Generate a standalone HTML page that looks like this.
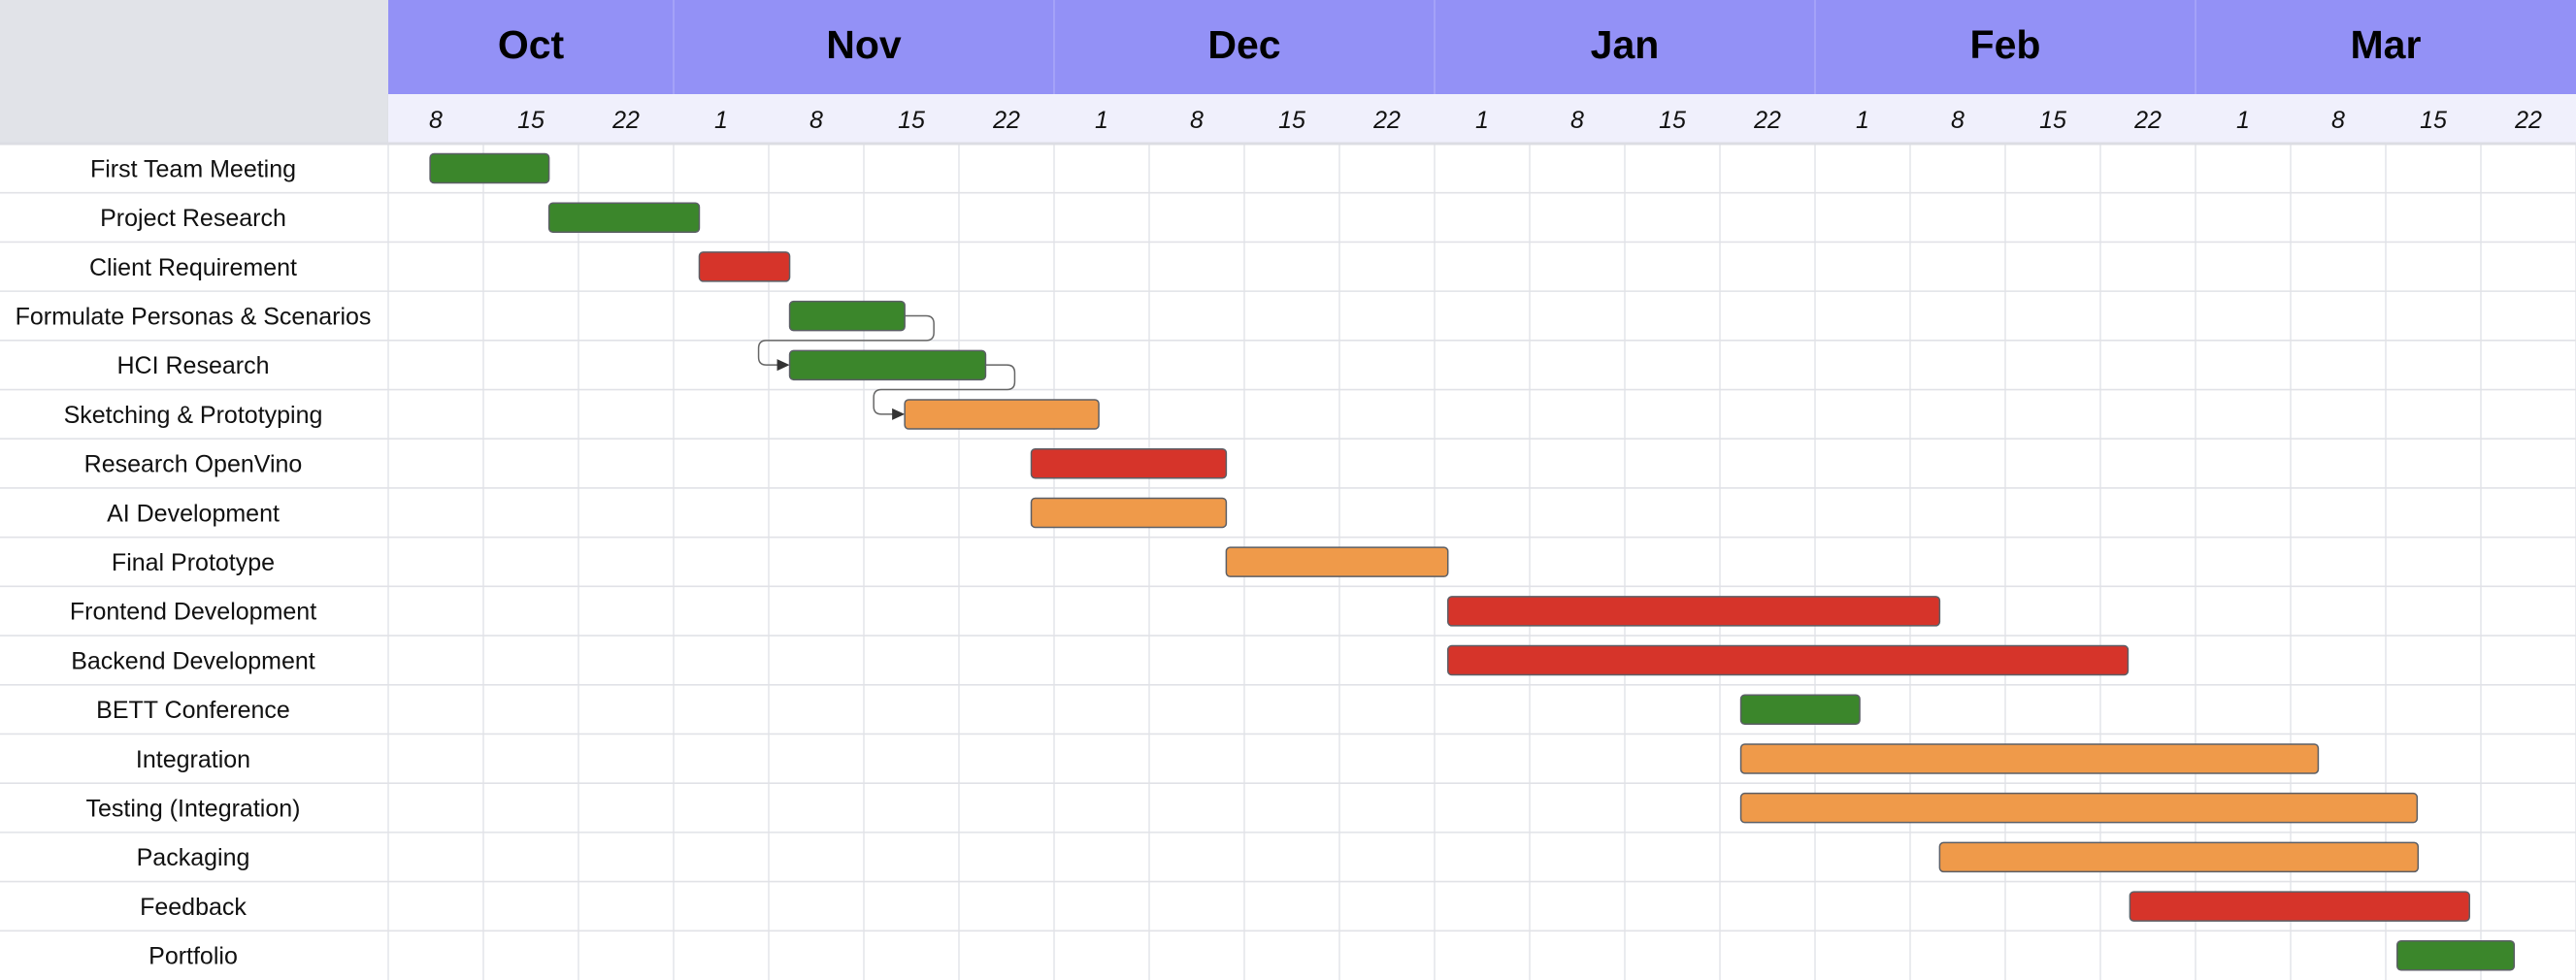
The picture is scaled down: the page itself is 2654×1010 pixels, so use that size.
<!DOCTYPE html>
<html><head><meta charset="utf-8"><style>
html,body{margin:0;padding:0;background:#fff;}
svg{display:block;}
</style></head><body>
<svg id="chart" width="2654" height="1010" viewBox="0 0 2654 1010" xmlns="http://www.w3.org/2000/svg">
<rect x="0" y="0" width="400" height="148" fill="#e1e3e8"/>
<g id="grid"></g><g id="hdr"></g><g id="labels"></g><g id="links"></g><g id="bars"></g>
</svg>
<script>
const months = ["Oct","Nov","Dec","Jan","Feb","Mar"];
const monthWeeks = [3,4,4,4,4,4];
const dayTicks = ["8","15","22","1","8","15","22","1","8","15","22","1","8","15","22","1","8","15","22","1","8","15","22"];
const tasks = ["First Team Meeting","Project Research","Client Requirement","Formulate Personas & Scenarios","HCI Research","Sketching & Prototyping","Research OpenVino","AI Development","Final Prototype","Frontend Development","Backend Development","BETT Conference","Integration","Testing (Integration)","Packaging","Feedback","Portfolio"];
const starts = [0.44,1.69,3.27,4.22,4.22,5.43,6.76,6.76,8.81,11.14,11.14,14.22,14.22,14.22,16.31,18.31,21.12];
const ends =   [1.69,3.27,4.22,5.43,6.28,7.47,8.81,8.81,11.14,16.31,18.29,15.47,20.29,21.33,21.34,21.88,22.35];
const status = ["g","g","r","g","g","o","r","o","o","r","r","g","o","o","o","r","g"];
const deps = [[3,4],[4,5]];

const NS="http://www.w3.org/2000/svg";
const X0=400, CW=(2654-400)/23, Y0=148, RH=(1010-148)/17;
const xs=w=>X0+w*CW, ys=i=>Y0+i*RH;
const col={g:"#3b862b",r:"#d6342a",o:"#ef9a4a"};
function mk(tag,attrs,parent){const e=document.createElementNS(NS,tag);for(const k in attrs)e.setAttribute(k,attrs[k]);parent.appendChild(e);return e;}
const grid=document.getElementById('grid'),hdr=document.getElementById('hdr'),lab=document.getElementById('labels'),bars=document.getElementById('bars'),links=document.getElementById('links');
// header
mk('rect',{x:X0,y:0,width:2654-X0,height:97,fill:"#9391f6"},hdr);
mk('rect',{x:X0,y:97,width:2654-X0,height:51,fill:"#f0f0fc"},hdr);
let w=0;
months.forEach((m,i)=>{
  const t=mk('text',{x:xs(w+monthWeeks[i]/2),y:60,"text-anchor":"middle","font-family":"Liberation Sans, sans-serif","font-weight":"bold","font-size":"41",fill:"#000"},hdr);
  t.textContent=m;
  
  
  if(i>0) mk('line',{x1:xs(w),x2:xs(w),y1:0,y2:97,stroke:"#a9a8f8","stroke-width":1.5},hdr);
  w+=monthWeeks[i];
});
dayTicks.forEach((d,i)=>{
  const t=mk('text',{x:xs(i+0.5),y:132,"text-anchor":"middle","font-family":"Liberation Sans, sans-serif","font-style":"italic","font-size":"25",fill:"#111"},hdr);
  t.textContent=d;
  
  
});
mk('line',{x1:0,x2:2654,y1:148,y2:148,stroke:"#dcdde3","stroke-width":3},hdr);
// grid
for(let i=0;i<=23;i++) mk('line',{x1:xs(i),x2:xs(i),y1:97,y2:1010,stroke:"#dcdee4","stroke-width":1.2},grid);
for(let i=1;i<17;i++) mk('line',{x1:0,x2:2654,y1:ys(i),y2:ys(i),stroke:"#e1e2e7","stroke-width":1.6},grid);
// labels and bars
tasks.forEach((n,i)=>{
  const t=mk('text',{x:199,y:ys(i)+RH/2+9,"text-anchor":"middle","font-family":"Liberation Sans, sans-serif","font-size":"25",fill:"#111"},lab);
  t.textContent=n;
  
  
  const r=mk('rect',{x:xs(starts[i]),y:ys(i)+10.5,width:xs(ends[i])-xs(starts[i]),height:30,rx:4,fill:col[status[i]],stroke:"#5c5f66","stroke-width":1.5},bars);
  
  
});
// dependency links
deps.forEach(([a,b])=>{
  const x1=xs(ends[a]), y1=ys(a)+RH/2, xr=x1+30, ym=ys(b), x2=xs(starts[b]), xl=x2-32, y2=ys(b)+RH/2, r=8;
  const d=`M${x1},${y1} H${xr-r} Q${xr},${y1} ${xr},${y1+r} V${ym-r} Q${xr},${ym} ${xr-r},${ym} H${xl+r} Q${xl},${ym} ${xl},${ym+r} V${y2-r} Q${xl},${y2} ${xl+r},${y2} H${x2-10}`;
  const p=mk('path',{d:d,fill:"none",stroke:"#666","stroke-width":1.5},links);
  
  
  mk('polygon',{points:`${x2},${y2} ${x2-13},${y2-6} ${x2-13},${y2+6}`,fill:"#333"},links);
});
</script>
</body></html>
